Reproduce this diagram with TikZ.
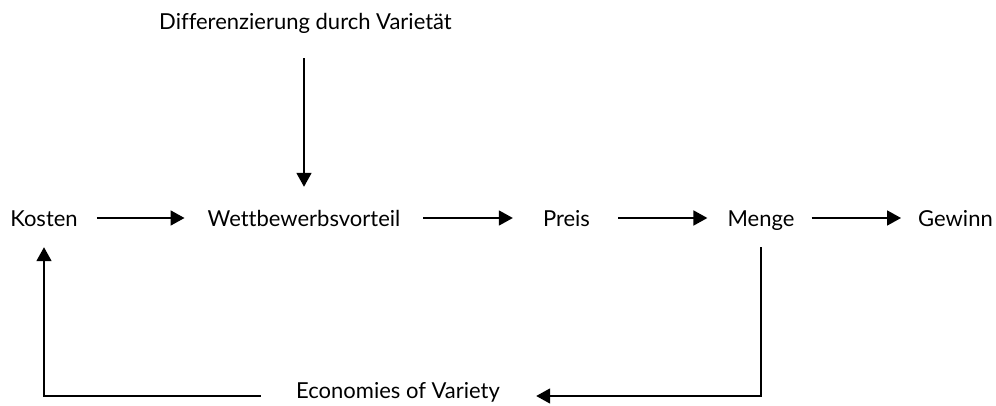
\documentclass[tikz,border=0pt]{standalone}
\usepackage{fontspec}
\setmainfont{Lato}[Ligatures=NoCommon]
\usetikzlibrary{arrows.meta}
\begin{document}
\begin{tikzpicture}[x=1pt,y=-1pt,
  lbl/.style={inner sep=0pt,text height=20pt,text depth=4pt,font=\fontsize{22}{26}\selectfont},
  arr/.style={line width=1.8pt,-{Triangle[length=14pt,width=15pt]}}]
\useasboundingbox (0,0) rectangle (996,406);
\node[lbl,minimum width=295pt] (diff) at (305.5,22) {Differenzierung durch Varietät};
\node[lbl,minimum width=64pt] (kosten) at (44,218) {Kosten};
\node[lbl,minimum width=192pt] (wett) at (304,218) {Wettbewerbsvorteil};
\node[lbl,minimum width=45pt] (preis) at (566.5,218) {Preis};
\node[lbl,minimum width=66pt] (menge) at (761,218) {Menge};
\node[lbl,minimum width=73pt] (gewinn) at (955.5,218) {Gewinn};
\node[lbl,minimum width=208pt] (econ) at (398,390) {Economies of Variety};
\draw[arr,shorten <=19pt,shorten >=23pt] (kosten.east) -- (wett.west);
\draw[arr,shorten <=23pt,shorten >=30pt] (wett.east) -- (preis.west);
\draw[arr,shorten <=28pt,shorten >=20pt] (preis.east) -- (menge.west);
\draw[arr,shorten <=17pt,shorten >=17pt] (menge.east) -- (gewinn.west);
\draw[arr,shorten <=24pt,shorten >=19pt] (diff.south -| wett.north) -- (wett.north);
\draw[arr,shorten <=17pt,shorten >=34pt] (menge.south) |- ([yshift=-6pt]econ.east);
\draw[arr,shorten <=33pt,shorten >=17pt] ([yshift=-6pt]econ.west) -| (kosten.south);
\end{tikzpicture}
\end{document}
